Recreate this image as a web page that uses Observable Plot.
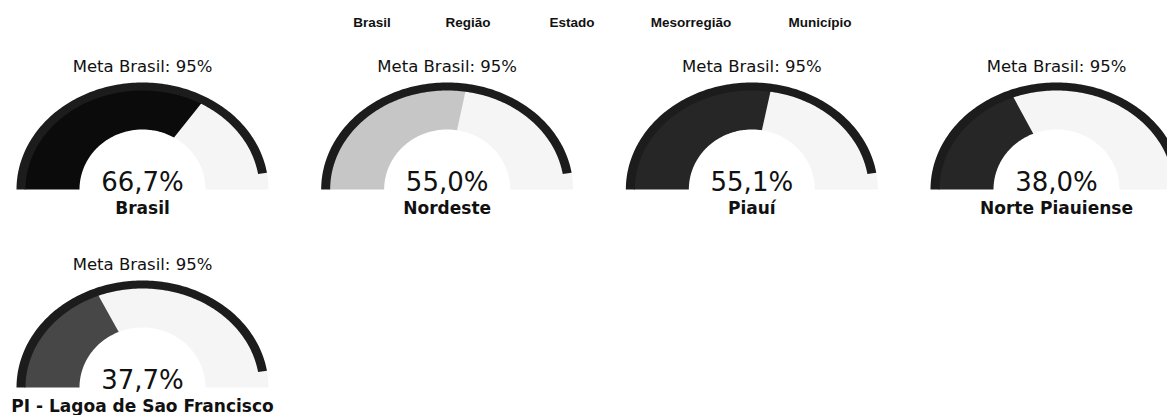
<!DOCTYPE html>
<html><head><meta charset="utf-8">
<script src="https://cdn.jsdelivr.net/npm/d3@7"></script>
<script src="https://cdn.jsdelivr.net/npm/@observablehq/plot@0.6"></script>
<style>
body{margin:0;background:#fff;overflow:hidden;}
#legend{position:relative;height:40px;width:1167px;font-family:"Liberation Sans",Arial,sans-serif;font-weight:bold;font-size:13.5px;color:#111;}
#legend span{position:absolute;top:15px;transform:translateX(-50%);white-space:nowrap;}
</style></head><body>
<div id="legend"></div>
<div id="chart"></div>
<script>
// ---- data ----
const levels = ["Brasil", "Região", "Estado", "Mesorregião", "Município"];
const names = ["Brasil", "Nordeste", "Piauí", "Norte Piauiense", "PI - Lagoa de Sao Francisco"];
const nameLevels = ["Brasil", "Região", "Estado", "Mesorregião", "Município"];
const values = [66.7, 55.0, 55.1, 38.0, 37.7];
const metaBrasil = 95;
const metaLabel = "Meta Brasil: 95%";

// ---- layout / style ----
const levelColors = ["#0b0b0b", "#c6c6c6", "#262626", "#262626", "#474747"];
const legendX = [372, 468, 572, 691, 820];
const COLS = 4;
const PXX = (1056 - 142) / 3, PXY = 198;
const G = {rxOut: 126, ryOut: 107, rxRing: 117, ryRing: 99, rxIn: 63, ryIn: 60};

const legend = document.getElementById("legend");
levels.forEach((l, i) => {
  const s = document.createElement("span");
  s.textContent = l;
  s.style.left = legendX[i] + "px";
  legend.appendChild(s);
});

const gauges = names.map((name, i) => ({
  name, value: values[i], level: nameLevels[i],
  col: i % COLS, row: Math.floor(i / COLS)
}));

function band(id, g, f0, f1, rxA, ryA, rxB, ryB) {
  const n = Math.max(2, Math.ceil((f1 - f0) * 160));
  const pts = [];
  for (let k = 0; k <= n; k++) {
    const th = (f0 + (f1 - f0) * k / n) * Math.PI;
    pts.push({id, level: g.level, x: g.col - rxA * Math.cos(th) / PXX, y: g.row - ryA * Math.sin(th) / PXY});
  }
  for (let k = n; k >= 0; k--) {
    const th = (f0 + (f1 - f0) * k / n) * Math.PI;
    pts.push({id, level: g.level, x: g.col - rxB * Math.cos(th) / PXX, y: g.row - ryB * Math.sin(th) / PXY});
  }
  return pts;
}

const restPts = gauges.flatMap((g, i) => band("r" + i, g, g.value / 100, 1, G.rxOut, G.ryOut, G.rxIn, G.ryIn));
const fillPts = gauges.flatMap((g, i) => band("f" + i, g, 0, g.value / 100, G.rxRing + 1, G.ryRing + 1, G.rxIn, G.ryIn));
const ringPts = gauges.flatMap((g, i) => band("k" + i, g, 0, metaBrasil / 100, G.rxOut, G.ryOut, G.rxRing, G.ryRing));

const fmt = v => d3.format(".1f")(v).replace(".", ",") + "%";

const chart = Plot.plot({
  width: 1167, height: 375,
  marginTop: 0, marginRight: 0, marginBottom: 0, marginLeft: 0,
  x: {domain: [0, 3], range: [142, 1056], axis: null},
  y: {domain: [0, 1], range: [149, 347], axis: null},
  color: {domain: levels, range: levelColors},
  style: {background: "white", overflow: "hidden"},
  marks: [
    Plot.line(restPts, {x: "x", y: "y", z: "id", fill: "#f5f5f5", stroke: "none"}),
    Plot.line(fillPts, {x: "x", y: "y", z: "id", fill: "level", stroke: "none"}),
    Plot.line(ringPts, {x: "x", y: "y", z: "id", fill: "#1c1c1c", stroke: "none"}),
    Plot.text(gauges, {x: "col", y: "row", text: () => metaLabel, dy: -118, lineAnchor: "bottom",
      fontSize: 16.5, fontFamily: "DejaVu Sans", fill: "#111"}),
    Plot.text(gauges, {x: "col", y: "row", text: d => fmt(d.value), dy: 1, lineAnchor: "bottom",
      fontSize: 26, fontFamily: "DejaVu Sans", fill: "#111"}),
    Plot.text(gauges, {x: "col", y: "row", text: "name", dy: 24, lineAnchor: "bottom",
      fontSize: 17, fontWeight: "bold", fontFamily: "DejaVu Sans", fill: "#111"})
  ]
});
document.getElementById("chart").appendChild(chart);
</script>
</body></html>
